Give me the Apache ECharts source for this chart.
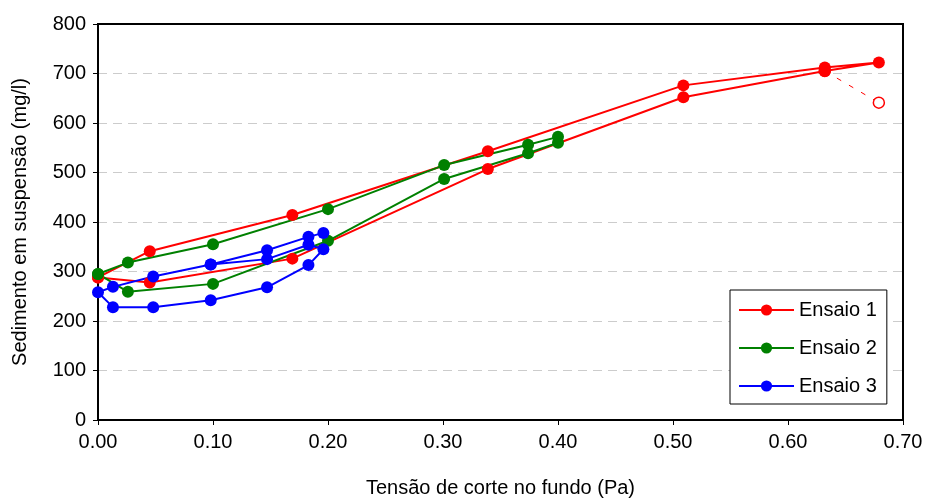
<!DOCTYPE html>
<html>
<head>
<meta charset="utf-8">
<script src="https://cdn.jsdelivr.net/npm/echarts@6/dist/echarts.min.js"></script>
<style>html,body{margin:0;padding:0;background:#fff}#c{width:929px;height:504px}</style>
</head>
<body>
<div id="c"></div>
<script>
// Ensaio 1 (red) - loop: rising then falling shear stress
var e1X = [0.000, 0.045, 0.169, 0.339, 0.509, 0.632, 0.679, 0.632, 0.509, 0.339, 0.169, 0.045, 0.000];
var e1Y = [288, 341, 414, 543, 676, 712, 722, 705, 652, 507, 326, 278, 288];
// Ensaio 1 outlier (open marker, dashed link)
var e1OutX = [0.632, 0.679];
var e1OutY = [705, 641];
// Ensaio 2 (green)
var e2X = [0.000, 0.026, 0.100, 0.200, 0.301, 0.374, 0.400, 0.400, 0.374, 0.301, 0.200, 0.100, 0.026, 0.000];
var e2Y = [295, 318, 355, 426, 515, 556, 572, 560, 539, 487, 362, 275, 259, 295];
// Ensaio 3 (blue)
var e3X = [0.196, 0.183, 0.147, 0.098, 0.048, 0.013, 0.000, 0.013, 0.048, 0.098, 0.147, 0.183, 0.196, 0.183, 0.147, 0.098];
var e3Y = [378, 370, 343, 314, 290, 269, 258, 228, 228, 242, 268, 313, 345, 354, 325, 314];

var seriesNames = ['Ensaio 1', 'Ensaio 2', 'Ensaio 3'];
var xName = 'Tensão de corte no fundo (Pa)';
var yName = 'Sedimento em suspensão (mg/l)';

function zip(xs, ys) { return xs.map(function (x, i) { return [x, ys[i]]; }); }

var FONT = 'Arial, "Liberation Sans", sans-serif';
var chart = echarts.init(document.getElementById('c'), null, { renderer: 'canvas' });

function lineSeries(name, color, xs, ys) {
  return {
    name: name, type: 'line', data: zip(xs, ys),
    symbol: 'circle', symbolSize: 12, showSymbol: true,
    lineStyle: { color: color, width: 2 },
    itemStyle: { color: color },
    emphasis: { disabled: true },
    animation: false
  };
}

chart.setOption({
  animation: false,
  backgroundColor: '#fff',
  grid: { left: 98, right: 26, top: 24, bottom: 84, show: true, borderColor: '#000', borderWidth: 2, backgroundColor: 'transparent' },
  xAxis: {
    type: 'value', min: 0, max: 0.7, interval: 0.1,
    name: xName, nameLocation: 'middle', nameGap: 58,
    nameTextStyle: { fontSize: 20, color: '#000', fontFamily: FONT },
    axisLine: { show: true, lineStyle: { color: '#000', width: 2 } },
    axisTick: { show: true, length: 5, lineStyle: { color: '#000', width: 1 } },
    axisLabel: { fontSize: 20, color: '#000', fontFamily: FONT, margin: 12, formatter: function (v) { return v.toFixed(2); } },
    splitLine: { show: false }
  },
  yAxis: {
    type: 'value', min: 0, max: 800, interval: 100,
    name: yName, nameLocation: 'middle', nameGap: 68, nameRotate: 90,
    nameTextStyle: { fontSize: 20, color: '#000', fontFamily: FONT },
    axisLine: { show: true, lineStyle: { color: '#000', width: 2 } },
    axisTick: { show: true, length: 5, lineStyle: { color: '#000', width: 1 } },
    axisLabel: { fontSize: 20, color: '#000', fontFamily: FONT, margin: 12 },
    splitLine: { show: true, showMinLine: false, showMaxLine: false, lineStyle: { color: '#cccccc', width: 1, type: [9, 6] } }
  },
  legend: {
    data: seriesNames,
    orient: 'vertical', left: 730, top: 290,
    padding: [10, 10, 8, 8],
    itemWidth: 55, itemHeight: 14, itemGap: 18,
    backgroundColor: '#fff', borderColor: '#000', borderWidth: 1, borderRadius: 0,
    textStyle: { fontSize: 20, color: '#000', fontFamily: FONT, lineHeight: 20 },
    selectedMode: false
  },
  series: [
    lineSeries(seriesNames[0], '#ff0000', e1X, e1Y),
    {
      name: 'Ensaio 1 (outlier)', type: 'line', data: zip(e1OutX, e1OutY),
      symbol: 'circle', symbolSize: 11,
      showSymbol: true,
      lineStyle: { color: '#ff0000', width: 1, type: [5, 9] },
      itemStyle: { color: '#fff', borderColor: '#ff0000', borderWidth: 1.5 },
      emphasis: { disabled: true }, animation: false, z: 1
    },
    lineSeries(seriesNames[1], '#008000', e2X, e2Y),
    lineSeries(seriesNames[2], '#0000ff', e3X, e3Y)
  ]
});
</script>
</body>
</html>
